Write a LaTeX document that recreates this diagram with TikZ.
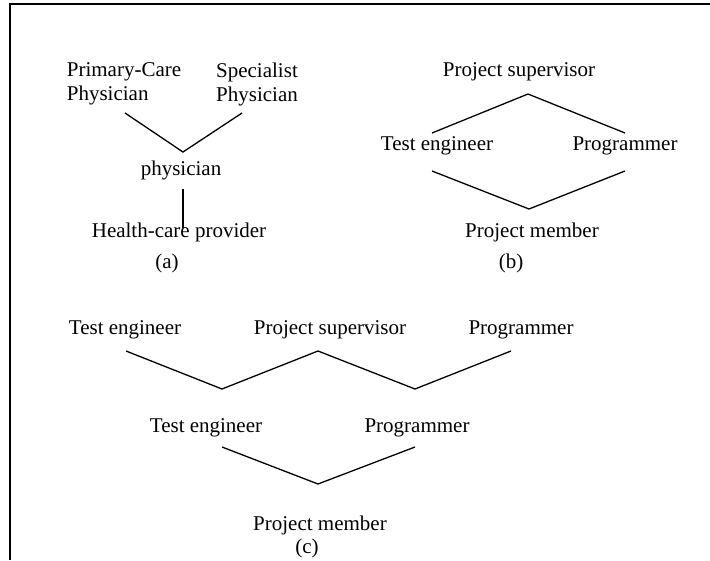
\documentclass[tikz,border=0pt]{standalone}
\usepackage{fontspec}
\setmainfont{Liberation Serif}
\usepackage{tikz}
\usetikzlibrary{positioning}

\tikzset{
    lbl/.style={font=\fontsize{21}{24}\selectfont, align=center, inner sep=1pt},
    link/.style={line width=1.3pt, line join=miter},
}

\begin{document}
\begin{tikzpicture}[x=1pt, y=-1pt]
    \useasboundingbox (0,0) rectangle (710,560);
    \draw[line width=1.4pt] (10,560) -- (10,4) -- (710,4);

    % (a)
    \node[lbl, align=left] (pcp)  at (124,84)  {Primary-Care\\Physician};
    \node[lbl, align=left] (spec) at (257,84)  {Specialist\\Physician};
    \node[lbl] (phys) at (181,170) {physician};
    \node[lbl] (hcp)  at (179,232) {Health-care provider};
    \node[lbl] (capa) at (167,263) {(a)};
    \coordinate (a1) at (125,113);
    \coordinate (a2) at (183,152);
    \coordinate (a3) at (242,113);
    \coordinate (a4) at (183,189);
    \coordinate (a5) at (183,228);
    \draw[link] (a1) -- (a2) -- (a3);
    \draw[link] (a4) -- (a5);

    % (b)
    \node[lbl] (sup)  at (519,72)  {Project supervisor};
    \node[lbl] (te)   at (437,146) {Test engineer};
    \node[lbl] (prog) at (625,146) {Programmer};
    \node[lbl] (mem)  at (532,232) {Project member};
    \node[lbl] (capb) at (511,263) {(b)};
    \coordinate (b1) at (432,133);
    \coordinate (b2) at (528,94);
    \coordinate (b3) at (625,133);
    \coordinate (b4) at (432,171);
    \coordinate (b5) at (529,209);
    \coordinate (b6) at (625,171);
    \draw[link] (b1) -- (b2) -- (b3);
    \draw[link] (b4) -- (b5) -- (b6);

    % (c)
    \node[lbl] (teA)   at (125,330) {Test engineer};
    \node[lbl] (supA)  at (330,330) {Project supervisor};
    \node[lbl] (progA) at (521,330) {Programmer};
    \node[lbl] (teB)   at (206,428) {Test engineer};
    \node[lbl] (progB) at (417,428) {Programmer};
    \node[lbl] (memB)  at (320,525) {Project member};
    \node[lbl] (capc)  at (307,548) {(c)};
    \coordinate (c1) at (126,351);
    \coordinate (c2) at (222,389);
    \coordinate (c3) at (318,351);
    \coordinate (c4) at (415,389);
    \coordinate (c5) at (511,351);
    \coordinate (c6) at (222,447);
    \coordinate (c7) at (318,484);
    \coordinate (c8) at (415,447);
    \draw[link] (c1) -- (c2) -- (c3) -- (c4) -- (c5);
    \draw[link] (c6) -- (c7) -- (c8);
\end{tikzpicture}
\end{document}
